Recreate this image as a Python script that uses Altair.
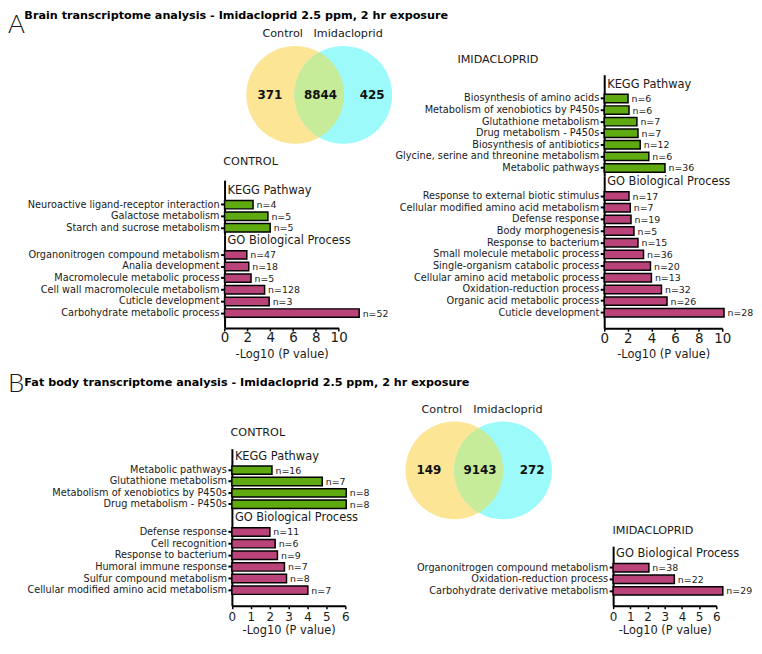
import math
import altair as alt
import pandas as pd

# ---------------- data ----------------
SECTION_LETTERS = ["A", "B"]
SECTION_TITLES = [
    "Brain transcriptome analysis - Imidacloprid 2.5 ppm, 2 hr exposure",
    "Fat body transcriptome analysis - Imidacloprid 2.5 ppm, 2 hr exposure",
]
PANEL_TITLES = ["CONTROL", "IMIDACLOPRID"]
HEADERS = ["KEGG Pathway", "GO Biological Process"]
X_TITLE = "-Log10 (P value)"

VENN_SETS = ["Control", "Imidacloprid"]
BRAIN_VENN_COUNTS = [371, 8844, 425]
FAT_VENN_COUNTS = [149, 9143, 272]

BRAIN_CTRL_KEGG = ["Neuroactive ligand-receptor interaction", "Galactose metabolism",
                   "Starch and sucrose metabolism"]
BRAIN_CTRL_KEGG_P = [2.5, 3.8, 4.0]
BRAIN_CTRL_KEGG_N = [4, 5, 5]
BRAIN_CTRL_GO = ["Organonitrogen compound metabolism", "Analia development",
                 "Macromolecule metabolic process", "Cell wall macromolecule metabolism",
                 "Cuticle development", "Carbohydrate metabolic process"]
BRAIN_CTRL_GO_P = [1.95, 2.12, 2.32, 3.51, 3.91, 11.8]
BRAIN_CTRL_GO_N = [47, 18, 5, 128, 3, 52]

BRAIN_IMID_KEGG = ["Biosynthesis of amino acids", "Metabolism of xenobiotics by P450s",
                   "Glutathione metabolism", "Drug metabolism - P450s",
                   "Biosynthesis of antibiotics", "Glycine, serine and threonine metabolism",
                   "Metabolic pathways"]
BRAIN_IMID_KEGG_P = [2.02, 2.1, 2.77, 2.86, 3.05, 3.78, 5.15]
BRAIN_IMID_KEGG_N = [6, 6, 7, 7, 12, 6, 36]
BRAIN_IMID_GO = ["Response to external biotic stimulus", "Cellular modified amino acid metabolism",
                 "Defense response", "Body morphogenesis", "Response to bacterium",
                 "Small molecule metabolic process", "Single-organism catabolic process",
                 "Cellular amino acid metabolic process", "Oxidation-reduction process",
                 "Organic acid metabolic process", "Cuticle development"]
BRAIN_IMID_GO_P = [2.1, 2.21, 2.27, 2.52, 2.86, 3.33, 3.92, 4.0, 4.85, 5.32, 10.15]
BRAIN_IMID_GO_N = [17, 7, 19, 5, 15, 36, 20, 13, 32, 26, 28]

FAT_CTRL_KEGG = ["Metabolic pathways", "Glutathione metabolism",
                 "Metabolism of xenobiotics by P450s", "Drug metabolism - P450s"]
FAT_CTRL_KEGG_P = [2.12, 4.78, 6.05, 6.05]
FAT_CTRL_KEGG_N = [16, 7, 8, 8]
FAT_CTRL_GO = ["Defense response", "Cell recognition", "Response to bacterium",
               "Humoral immune response", "Sulfur compound metabolism",
               "Cellular modified amino acid metabolism"]
FAT_CTRL_GO_P = [2.01, 2.29, 2.41, 2.78, 2.89, 4.02]
FAT_CTRL_GO_N = [11, 6, 9, 7, 8, 7]

FAT_IMID_GO = ["Organonitrogen compound metabolism", "Oxidation-reduction process",
               "Carbohydrate derivative metabolism"]
FAT_IMID_GO_P = [2.08, 3.56, 6.38]
FAT_IMID_GO_N = [38, 22, 29]

TICKS_10 = [0, 2, 4, 6, 8, 10]
TICKS_6 = [0, 1, 2, 3, 4, 5, 6]

# ---------------- layout / style ----------------
W, H = 752, 632
XO = 10          # horizontal shift, figure -> chart
YA, YB = 8, 20   # vertical shift for section A and section B
FONT = "DejaVu Sans"
TXT = "#1a1a1a"
GREEN = "#5EAA10"
MAGENTA = "#BA4479"
YELLOW = "#FCE595"
CYAN = "#9CFAFA"
LENS = "#C6EC99"

VENN_LAYOUT = {"count_x": [-2.05, 0.05, 2.2], "label_x": [-1.52, 1.2], "label_y": 1.24}
AXIS_STYLE = {"A": dict(label_size=13.5, label_pad=0, title_pad=4),
              "B": dict(label_size=12, label_pad=3, title_pad=2)}


def x_axis(ticks, y_bottom, label_size, label_pad, title_pad):
    return alt.Axis(values=ticks, orient="bottom", offset=y_bottom - H, grid=False,
                    domainColor="black", domainWidth=2, tickColor="black", tickWidth=1.5,
                    tickSize=3, labelFontSize=label_size, labelColor=TXT,
                    labelPadding=label_pad, labelFlush=False, labelOverlap=False,
                    title=X_TITLE, titleFontSize=11.5, titleFontWeight="normal",
                    titleColor=TXT, titlePadding=title_pad)


def y_axis(cats, x_left):
    return alt.Axis(values=cats, orient="left", offset=-x_left, grid=False,
                    domainColor="black", domainWidth=2, tickColor="black", tickWidth=2,
                    tickSize=4, labelFontSize=9.8, labelColor=TXT, labelPadding=1.5,
                    labelLimit=500)


def bar_group(cats, vals, ns, header, color, xs, xa, x_left, yo, y_top, y_bot, c_first, c_last):
    # y positions given in figure pixels, shifted by yo
    y_top, y_bot, c_first, c_last = y_top - yo, y_bot - yo, c_first - yo, c_last - yo
    step = (c_last - c_first) / (len(cats) - 1)
    n = len(cats) + 1
    span = y_bot - y_top
    outer = span - step * n
    pad_outer = outer / (2 * step)
    start = c_first - 1.5 * step
    align = (start - y_top) / outer
    ys = alt.Scale(domain=[header] + cats, range=[y_top, y_bot], paddingInner=0,
                   paddingOuter=pad_outer, align=align)
    y = alt.Y("cat:N", scale=ys, axis=y_axis(cats, x_left), title=None)
    x = alt.X("val:Q", scale=xs, axis=xa)
    df = pd.DataFrame({"cat": cats, "val": vals, "nlab": ["n=%d" % v for v in ns]})
    bars = alt.Chart(df).mark_bar(size=8.5, color=color, stroke="black",
                                  strokeWidth=1.5).encode(x=x, y=y)
    nlab = alt.Chart(df).mark_text(align="left", baseline="middle", dx=3.5, dy=0.5,
                                   fontSize=9.5, color=TXT).encode(x=x, y=y, text="nlab:N")
    head = alt.Chart(pd.DataFrame({"cat": [header]})).mark_text(
        align="left", baseline="middle", dx=3, dy=-2, fontSize=11.5, color=TXT
    ).encode(x=alt.XDatum(0, type="quantitative", scale=xs, axis=xa), y=y, text="cat:N")
    return alt.layer(bars, nlab, head)


def panel_x(x0_fig, x1_fig, dmax, ticks, y_bottom_fig, yo, style):
    x0, x1 = x0_fig - XO, x1_fig - XO
    xs = alt.Scale(domain=[0, dmax], range=[x0, x1], nice=False, zero=True)
    xa = x_axis(ticks, y_bottom_fig - yo, **style)
    return xs, xa, x0


def venn(counts, cx_left, cx_right, cy, r, yo):
    cx_left, cx_right, cy = cx_left - XO, cx_right - XO, cy - yo
    xs = alt.Scale(domain=[-1, 1], range=[cx_left, cx_right], zero=False, nice=False)
    ys = alt.Scale(domain=[-1, 1], range=[cy + r, cy - r], zero=False, nice=False)
    size = (2 * r) ** 2
    half = (cx_right - cx_left) / (2 * r)
    h = math.sqrt(1 - half * half)
    lens_path = "M0,%.4fA1,1,0,0,1,0,%.4fA1,1,0,0,1,0,%.4fZ" % (-h, h, -h)
    circ_df = pd.DataFrame({"set": VENN_SETS, "u": [-1, 1]})
    circles = alt.Chart(circ_df).mark_point(shape="circle", filled=True, opacity=1,
                                            size=size, strokeWidth=0).encode(
        x=alt.X("u:Q", scale=xs, axis=None),
        y=alt.YDatum(0, type="quantitative", scale=ys, axis=None),
        color=alt.Color("set:N", scale=alt.Scale(domain=VENN_SETS, range=[YELLOW, CYAN]),
                        legend=None),
    )
    lens = alt.Chart(pd.DataFrame({"k": [0]})).mark_point(
        shape=lens_path, filled=True, opacity=1, size=size, strokeWidth=0, color=LENS
    ).encode(x=alt.XDatum(0, type="quantitative", scale=xs, axis=None),
             y=alt.YDatum(0, type="quantitative", scale=ys, axis=None))
    cnt_df = pd.DataFrame({"c": [str(c) for c in counts], "u": VENN_LAYOUT["count_x"]})
    cnt = alt.Chart(cnt_df).mark_text(fontWeight="bold", fontSize=12, color="#111",
                                      baseline="middle").encode(
        x=alt.X("u:Q", scale=xs, axis=None),
        y=alt.YDatum(0, type="quantitative", scale=ys, axis=None),
        text="c:N")
    lab_df = pd.DataFrame({"s": VENN_SETS, "u": VENN_LAYOUT["label_x"]})
    lab = alt.Chart(lab_df).mark_text(fontSize=11.3, color=TXT, baseline="middle").encode(
        x=alt.X("u:Q", scale=xs, axis=None),
        y=alt.YDatum(VENN_LAYOUT["label_y"], type="quantitative", scale=ys, axis=None),
        text="s:N")
    return alt.layer(circles, lens, cnt, lab)


def label(text, x, y, size, weight="normal", font=FONT):
    return alt.Chart(pd.DataFrame({"t": [text]})).mark_text(
        align="left", baseline="alphabetic", fontSize=size, fontWeight=weight, font=font,
        color="black" if weight == "bold" else TXT
    ).encode(x=alt.value(x), y=alt.value(y), text="t:N")


# ---------- Brain (A) ----------
xs, xa, x0 = panel_x(228.3, 343.3, 10, TICKS_10, 328, YA, AXIS_STYLE["A"])
ctrl_a = alt.layer(
    bar_group(BRAIN_CTRL_KEGG, BRAIN_CTRL_KEGG_P, BRAIN_CTRL_KEGG_N, HEADERS[0], GREEN,
              xs, xa, x0, YA, 179, 234, 203.7, 227),
    bar_group(BRAIN_CTRL_GO, BRAIN_CTRL_GO_P, BRAIN_CTRL_GO_N, HEADERS[1], MAGENTA,
              xs, xa, x0, YA, 234, 328, 254.3, 313),
).resolve_scale(y="independent")

xs, xa, x0 = panel_x(611, 730, 10, TICKS_10, 328.3, YA, AXIS_STYLE["A"])
imid_a = alt.layer(
    bar_group(BRAIN_IMID_KEGG, BRAIN_IMID_KEGG_P, BRAIN_IMID_KEGG_N, HEADERS[0], GREEN,
              xs, xa, x0, YA, 72.7, 175, 96.7, 166.7),
    bar_group(BRAIN_IMID_GO, BRAIN_IMID_GO_P, BRAIN_IMID_GO_N, HEADERS[1], MAGENTA,
              xs, xa, x0, YA, 175, 328.3, 195, 312.7),
).resolve_scale(y="independent")

# ---------- Fat body (B) ----------
xs, xa, x0 = panel_x(235.7, 350, 6, TICKS_6, 620, YB, AXIS_STYLE["B"])
ctrl_b = alt.layer(
    bar_group(FAT_CTRL_KEGG, FAT_CTRL_KEGG_P, FAT_CTRL_KEGG_N, HEADERS[0], GREEN,
              xs, xa, x0, YB, 461.7, 526, 483.3, 517.7),
    bar_group(FAT_CTRL_GO, FAT_CTRL_GO_P, FAT_CTRL_GO_N, HEADERS[1], MAGENTA,
              xs, xa, x0, YB, 526, 620, 545.7, 604.3),
).resolve_scale(y="independent")

xs, xa, x0 = panel_x(620, 724, 6, TICKS_6, 620, YB, AXIS_STYLE["B"])
imid_b = bar_group(FAT_IMID_GO, FAT_IMID_GO_P, FAT_IMID_GO_N, HEADERS[1], MAGENTA,
                   xs, xa, x0, YB, 560, 620, 581.7, 605)

venn_a = venn(BRAIN_VENN_COUNTS, 299.5, 348, 93, 49.25, YA)
venn_b = venn(FAT_VENN_COUNTS, 460, 509, 483.5, 49.25, YB)

texts = [
    label(SECTION_LETTERS[0], 0, 22.5, 26, font="Lato", weight=300),
    label(SECTION_TITLES[0], 26.5 - XO, 10.5 + 6 - YA, 11.3, weight="bold"),
    label(SECTION_LETTERS[1], 0, 404.3 - YB, 26, font="Lato", weight=300),
    label(SECTION_TITLES[1], 26.5 - XO, 398.5 - YB, 11.3, weight="bold"),
    label(PANEL_TITLES[0], 227 - XO, 164 - YA, 11.3),
    label(PANEL_TITLES[1], 463 - XO, 61 - YA, 11.3),
    label(PANEL_TITLES[0], 234.3 - XO, 449.3 - YB, 11.3),
    label(PANEL_TITLES[1], 619.3 - XO, 547.7 - YB, 11.3),
]

chart = alt.layer(venn_a, ctrl_a, imid_a, venn_b, ctrl_b, imid_b, *texts).resolve_scale(
    x="independent", y="independent", color="independent"
).properties(
    width=W, height=H, autosize=alt.AutoSizeParams(type="none"), padding=0
).configure(font=FONT).configure_view(strokeWidth=0)

chart.save("out.html", embed_options={"renderer": "svg", "actions": False})
